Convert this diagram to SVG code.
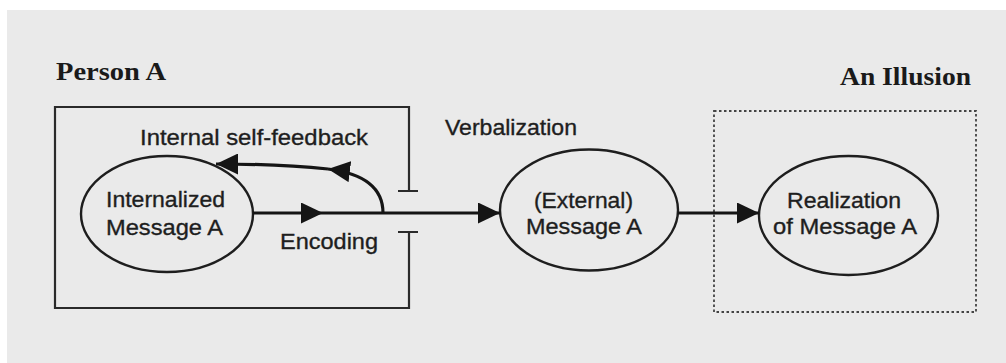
<svg xmlns="http://www.w3.org/2000/svg" width="1006" height="363" viewBox="0 0 1006 363">
<style>
.bg{fill:#eaeaea}
.node{fill:none;stroke:#1e1e1e;stroke-width:2.4}
.frame{fill:none;stroke:#2a2a2a;stroke-width:2.2}
.dotted{fill:none;stroke:#444;stroke-width:1.8;stroke-dasharray:2.5 2.5}
.conn{fill:none;stroke:#151515;stroke-width:3.2}
.lbl{font-family:"Liberation Sans",Arial,sans-serif;font-size:22px;fill:#1e1e1e;stroke:#1e1e1e;stroke-width:0.35}
.title{font-family:"Liberation Serif","Times New Roman",serif;font-size:26px;font-weight:bold;fill:#1a1a1a}
</style>
<defs>
<marker id="arr" viewBox="0 0 22 21" refX="22" refY="10.5" markerWidth="22" markerHeight="21" markerUnits="userSpaceOnUse" orient="auto">
<path d="M0,0 L22,10.5 L0,21 z" fill="#151515"/>
</marker>
</defs>
<rect class="bg" x="7" y="10" width="999" height="353"/>

<g id="personA">
<text class="title" x="56" y="80" textLength="110" lengthAdjust="spacingAndGlyphs">Person A</text>
<path class="frame" d="M409,191 L409,107 L55,107 L55,308 L409,308 L409,232"/>
<path class="frame" d="M398,191 L418,191 M398,232 L418,232"/>
</g>

<g id="illusion">
<text class="title" x="840" y="85" textLength="131" lengthAdjust="spacingAndGlyphs">An Illusion</text>
<rect class="dotted" x="714" y="111" width="262" height="201"/>
</g>

<g id="internalized">
<ellipse class="node" cx="167" cy="214" rx="86" ry="58"/>
<text class="lbl" x="106" y="207" textLength="119" lengthAdjust="spacingAndGlyphs">Internalized</text>
<text class="lbl" x="106" y="235" textLength="117" lengthAdjust="spacingAndGlyphs">Message A</text>
</g>

<g id="external">
<ellipse class="node" cx="589" cy="210" rx="89" ry="60.5"/>
<text class="lbl" x="534" y="208" textLength="99" lengthAdjust="spacingAndGlyphs">(External)</text>
<text class="lbl" x="526" y="234" textLength="116" lengthAdjust="spacingAndGlyphs">Message A</text>
</g>

<g id="realization">
<ellipse class="node" cx="848.5" cy="215.5" rx="89.5" ry="59.5"/>
<text class="lbl" x="787" y="208" textLength="114" lengthAdjust="spacingAndGlyphs">Realization</text>
<text class="lbl" x="773" y="234" textLength="144" lengthAdjust="spacingAndGlyphs">of Message A</text>
</g>

<g id="connectors">
<path class="conn" d="M253,213 L323,213" marker-end="url(#arr)"/>
<path class="conn" d="M323,213 L500,213" marker-end="url(#arr)"/>
<path class="conn" d="M678,213 L759,213" marker-end="url(#arr)"/>
<path class="conn" d="M383,213 C383,190 368,174 328,169" marker-end="url(#arr)"/>
<path class="conn" d="M328,169 C290,165 255,164 216,164" marker-end="url(#arr)"/>
<text class="lbl" x="140" y="145" textLength="228" lengthAdjust="spacingAndGlyphs">Internal self-feedback</text>
<text class="lbl" x="445" y="135" textLength="132" lengthAdjust="spacingAndGlyphs">Verbalization</text>
<text class="lbl" x="280" y="249" textLength="98" lengthAdjust="spacingAndGlyphs">Encoding</text>
</g>
</svg>
